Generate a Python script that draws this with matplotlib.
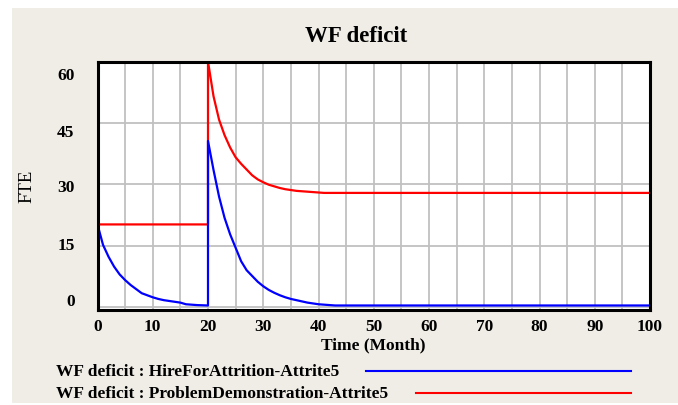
import matplotlib.pyplot as plt
from matplotlib.patches import Rectangle
from matplotlib.lines import Line2D

plt.rcParams['font.family'] = ['Liberation Serif', 'DejaVu Serif']

# WF deficit (FTE by month)
blue_t = list(range(0, 21)) + list(range(20, 44)) + [100]
blue_v = [20.2, 15.2, 12.3, 9.9, 8.0, 6.6, 5.4, 4.4, 3.4, 2.9, 2.4,
          2.0, 1.7, 1.5, 1.3, 1.1, 0.7, 0.6, 0.5, 0.45, 0.4,
          40.6, 33.5, 27.0, 21.8, 17.8, 14.5, 11.2, 9.0, 7.6, 6.2,
          5.1, 4.2, 3.5, 2.9, 2.4, 2.0, 1.7, 1.4, 1.1, 0.9,
          0.7, 0.6, 0.5, 0.4, 0.4]

red_t = [0, 20] + list(range(20, 42)) + [100]
red_v = [20.2, 20.2,
         60.0, 51.5, 45.8, 42.0, 39.0, 36.6, 35.0, 33.6, 32.2, 31.2,
         30.5, 29.9, 29.5, 29.1, 28.8, 28.6, 28.4, 28.3, 28.2, 28.1,
         28.0, 27.9, 27.9]

blue_name = 'WF deficit : HireForAttrition-Attrite5'
red_name = 'WF deficit : ProblemDemonstration-Attrite5'

y_grid = [0, 15, 30, 45, 60]
y_labels = ['0', '15', '30', '45', '60']
# vensim spreads the y labels a bit unevenly
y_label_pos = [2.0, 15.7, 29.9, 43.3, 57.1]

W, H = 678, 406
fig = plt.figure(figsize=(W / 100, H / 100), dpi=100)
fig.patch.set_facecolor('white')

# beige panel behind everything
fig.patches.append(Rectangle((12 / W, 2 / H), (W - 12) / W, 395 / H,
                             transform=fig.transFigure, facecolor='#F0EDE6',
                             edgecolor='none', zorder=-5))

ax = fig.add_axes([97.5 / W, 95.3 / H, 552.5 / W, 248.2 / H])
ax.set_facecolor('white')

ax.plot(red_t, red_v, color='#FF0000', lw=1.6, zorder=3)
ax.plot(blue_t, blue_v, color='#0000FF', lw=1.6, zorder=4)

ax.set_xlim(0, 100)
ax.set_ylim(-0.63, 60)

ax.set_xticks(range(0, 101, 10))
ax.set_xticks(range(5, 100, 10), minor=True)
ax.set_yticks(y_grid, labels=[''] * 5)
ax.set_yticks(y_label_pos, labels=y_labels, minor=True)

ax.tick_params(which='both', length=0)
ax.tick_params(axis='x', which='major', pad=6, labelsize=12.5)
ax.tick_params(axis='y', which='minor', pad=16.5, labelsize=12.5)
for lab in ax.get_xticklabels() + ax.get_yticklabels(minor=True):
    lab.set_fontweight('bold')

ax.xaxis.grid(True, which='both', color='#C0C0C0', lw=1.3)
ax.yaxis.grid(True, which='major', color='#C0C0C0', lw=1.3)
ax.set_axisbelow(True)

for s in ax.spines.values():
    s.set_linewidth(2.2)
    s.set_color('black')
    s.set_zorder(5)

fig.text(356 / W, 1 - 36 / H, 'WF deficit', ha='center', va='center',
         fontsize=16.5, fontweight='bold')
fig.text(27 / W, 1 - 186 / H, 'FTE', ha='center', va='center',
         rotation=90, fontsize=13.5)
fig.text(373 / W, 1 - 345 / H, 'Time (Month)', ha='center', va='center',
         fontsize=12.5, fontweight='bold')

# legend drawn by hand, like vensim does
fig.text(56 / W, 1 - 372 / H, blue_name, ha='left', va='center',
         fontsize=12.5, fontweight='bold')
fig.text(56 / W, 1 - 394 / H, red_name, ha='left', va='center',
         fontsize=12.5, fontweight='bold')
fig.add_artist(Line2D([366 / W, 631 / W], [1 - 372 / H, 1 - 372 / H],
                      color='#0000FF', lw=1.5))
fig.add_artist(Line2D([416 / W, 631 / W], [1 - 394 / H, 1 - 394 / H],
                      color='#FF0000', lw=1.5))

fig.savefig('out.png', dpi=100, facecolor=fig.get_facecolor())
